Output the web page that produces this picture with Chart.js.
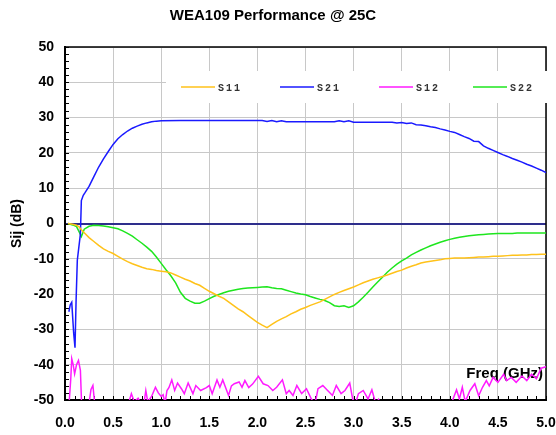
<!DOCTYPE html>
<html>
<head>
<meta charset="utf-8">
<script src="https://cdn.jsdelivr.net/npm/chart.js@4.4.1/dist/chart.umd.min.js"></script>
<style>
html,body{margin:0;padding:0;background:#fff;}
#wrap{width:556px;height:435px;position:relative;}
</style>
</head>
<body>
<div id="wrap"><canvas id="c" width="556" height="435"></canvas></div>
<script>
// ---- DATA ----
const chartTitle = 'WEA109 Performance @ 25C';
const yTitle = 'Sij (dB)';
const xTitle = 'Freq (GHz)';
const seriesNames = ['S11', 'S21', 'S12', 'S22'];

const freqMain = [0.03,0.08,0.12,0.15,0.17,0.2,0.25,0.3,
 0.35,0.4,0.45,0.5,0.55,0.6,0.65,0.7,0.75,0.8,0.85,0.9,0.95,1.0,
 1.05,1.1,1.15,1.2,1.25,1.3,1.35,1.4,1.45,1.5,1.55,1.6,1.65,1.7,1.75,1.8,1.85,1.9,1.95,2.0,
 2.05,2.1,2.15,2.2,2.25,2.3,2.35,2.4,2.45,2.5,2.55,2.6,2.65,2.7,2.75,2.8,2.85,2.9,2.95,3.0,
 3.05,3.1,3.15,3.2,3.25,3.3,3.35,3.4,3.45,3.5,3.55,3.6,3.65,3.7,3.75,3.8,3.85,3.9,3.95,4.0,
 4.05,4.1,4.15,4.2,4.25,4.3,4.35,4.4,4.45,4.5,4.55,4.6,4.65,4.7,4.75,4.8,4.85,4.9,4.95,5.0];

const s11 = [0,-0.2,-0.5,-1.0,-1.8,-2.6,-4.0,-5.1,
 -6.2,-7.2,-7.9,-8.5,-9.3,-10.1,-10.8,-11.4,-11.9,-12.4,-12.8,-13.0,-13.3,-13.5,
 -13.7,-14.0,-14.6,-15.2,-15.8,-16.3,-17.0,-17.5,-18.4,-19.2,-19.9,-20.6,-21.2,-22.2,-23.2,-24.2,-25.0,-26.0,-27.0,-28.0,
 -28.8,-29.5,-28.6,-27.7,-27.0,-26.4,-25.6,-25.0,-24.3,-23.8,-23.2,-22.7,-22.2,-21.5,-20.8,-20.1,-19.5,-19.0,-18.5,-18.0,
 -17.4,-16.8,-16.3,-15.8,-15.4,-15.0,-14.6,-14.1,-13.6,-13.2,-12.6,-12.1,-11.7,-11.2,-10.9,-10.7,-10.5,-10.3,-10.0,-9.9,
 -9.8,-9.8,-9.8,-9.7,-9.6,-9.5,-9.5,-9.4,-9.3,-9.3,-9.2,-9.1,-9.0,-9.0,-8.9,-8.9,-8.8,-8.8,-8.7,-8.7];

const s22 = [0,-0.4,-0.9,-2.5,-3.7,-1.6,-0.8,-0.5,
 -0.6,-0.7,-0.9,-1.2,-1.5,-2.1,-2.8,-3.6,-4.6,-5.6,-6.7,-7.9,-9.5,-11.3,
 -13.1,-14.8,-16.8,-19.5,-21.2,-22.0,-22.6,-22.6,-22.0,-21.3,-20.6,-20.1,-19.6,-19.2,-18.9,-18.6,-18.4,-18.3,-18.2,-18.1,
 -18.0,-17.9,-18.2,-18.4,-18.5,-18.9,-19.3,-19.7,-20.0,-20.2,-20.7,-21.1,-21.5,-21.8,-22.4,-23.3,-23.5,-23.3,-23.8,-23.3,
 -22.2,-20.9,-19.5,-18.0,-16.6,-15.2,-13.8,-12.6,-11.5,-10.6,-9.8,-8.9,-8.2,-7.5,-6.9,-6.3,-5.8,-5.3,-4.9,-4.5,
 -4.2,-3.9,-3.7,-3.5,-3.3,-3.2,-3.1,-3.0,-2.9,-2.8,-2.8,-2.8,-2.8,-2.7,-2.7,-2.7,-2.7,-2.7,-2.7,-2.7];

const freqS21 = [0.04,0.055,0.07,0.09,0.104,0.115,0.128,0.16,0.17,0.19,0.21,0.25,0.3,0.35,0.4,0.45,0.5,0.55,0.6,
 0.65,0.7,0.75,0.8,0.85,0.9,0.95,1.0,1.2,1.5,1.8,2.05,2.1,2.15,2.2,2.25,2.3,2.35,2.8,2.85,2.9,2.95,3.0,
 3.4,3.45,3.5,3.55,3.6,3.65,3.7,3.75,3.8,3.85,3.9,3.95,4.0,4.05,4.1,4.15,4.2,4.25,4.3,4.35,4.4,4.45,
 4.5,4.55,4.6,4.65,4.7,4.75,4.8,4.85,4.9,4.95,5.0];
const s21 = [-25.0,-23.0,-22.3,-31.0,-35.2,-22.0,-10.4,-3.0,6.5,8.0,8.8,10.5,13.3,16.0,18.3,20.4,22.4,24.0,25.2,
 26.2,27.0,27.6,28.1,28.5,28.8,29.0,29.1,29.2,29.2,29.2,29.2,28.9,29.2,28.8,29.1,28.8,28.8,28.8,29.1,28.8,29.1,28.7,
 28.7,28.5,28.6,28.3,28.5,28.0,27.9,27.7,27.4,27.2,26.8,26.5,26.1,25.8,25.2,24.6,24.1,23.3,23.2,22.0,21.3,20.7,
 20.1,19.5,19.0,18.4,17.9,17.4,16.8,16.3,15.7,15.1,14.4];

const freqS12 = [0.04,0.06,0.07,0.085,0.10,0.12,0.14,0.16,0.175,0.22,0.25,0.27,0.29,0.305,0.32,0.6,0.66,0.69,0.72,
 0.76,0.78,0.82,0.84,0.86,0.9,0.94,0.97,1.0,1.02,1.04,1.06,1.08,1.11,1.14,1.17,1.21,1.24,1.28,1.33,1.36,1.41,
 1.47,1.5,1.53,1.58,1.61,1.64,1.70,1.73,1.76,1.81,1.84,1.87,1.91,1.95,2.01,2.06,2.11,2.16,2.2,2.26,2.3,2.33,
 2.37,2.41,2.46,2.51,2.56,2.6,2.63,2.68,2.73,2.78,2.82,2.87,2.91,2.96,2.99,3.02,3.05,3.1,3.15,3.19,3.23,3.26,
 3.29,3.35,3.95,4.0,4.03,4.07,4.1,4.13,4.16,4.21,4.26,4.3,4.34,4.38,4.41,4.45,4.5,4.56,4.59,4.64,4.69,4.75,
 4.8,4.85,4.9,4.95,5.0];
const s12 = [-52,-44,-38.3,-40,-42.6,-40,-38.8,-41.6,-53,-53,-51,-47,-45.9,-50,-53,-53,-51,-48.2,-50.5,
 -49.5,-50.5,-51,-47.3,-50.5,-49,-46.4,-48,-49,-48.5,-51,-47.3,-46.5,-44.3,-47.3,-45.2,-46.8,-48.2,-45.2,-48.2,-45.9,-47.3,
 -46.5,-45.9,-48.2,-44.3,-46.4,-44.3,-48.7,-46,-45.4,-44.9,-46.4,-44.5,-46.5,-45.5,-43.3,-45.4,-45.9,-47.3,-46.4,-44.3,-48.2,-47.3,
 -48.7,-45.9,-48.2,-46.8,-49.7,-51,-46.8,-45.9,-47.3,-48.7,-45.9,-48.2,-47.3,-45.2,-49.7,-51,-48.2,-47.3,-49.7,-47.1,-51,-49.8,
 -52,-53,-53,-51,-50,-47.1,-49.7,-46.4,-50.5,-47.3,-45.4,-48.8,-46.4,-44.5,-46,-43.6,-45,-42.7,-44.5,-43.6,-45,-43.2,
 -44.5,-42.7,-44,-41.0,-40.6];

// ---- STYLE ----
const colors = {S11:'#ffc21a', S21:'#1a1aff', S12:'#ff1aff', S22:'#1ee61e'};
const FONT = "'Liberation Sans', Arial, sans-serif";
const toPts = (xs, ys) => xs.map((x, i) => ({x: x, y: ys[i]}));

const ds = (name, xs, ys) => ({
  label: name, data: toPts(xs, ys), borderColor: colors[name], backgroundColor: colors[name],
  borderWidth: 1.5, pointRadius: 0, tension: 0, fill: false
});

const decor = {
  id: 'decor',
  beforeDatasetsDraw(chart) {
    const ctx = chart.ctx, ca = chart.chartArea;
    const xs = chart.scales.x, ys = chart.scales.y;
    ctx.save();
    // minor ticks (inward)
    ctx.strokeStyle = '#000'; ctx.lineWidth = 1;
    ctx.beginPath();
    for (let v = -50; v <= 50; v += 2) {
      const y = Math.round(ys.getPixelForValue(v)) + 0.5;
      ctx.moveTo(ca.left, y); ctx.lineTo(ca.left + 4, y);
    }
    for (let k = 0; k <= 50; k++) {
      const x = Math.round(xs.getPixelForValue(k / 10)) + 0.5;
      ctx.moveTo(x, ca.bottom); ctx.lineTo(x, ca.bottom - 4);
    }
    ctx.stroke();
    // top and right border
    ctx.lineWidth = 1.5;
    ctx.beginPath();
    ctx.moveTo(ca.left, ca.top); ctx.lineTo(ca.right, ca.top); ctx.lineTo(ca.right, ca.bottom);
    ctx.stroke();
    // legend box
    const lx = ca.left + 101, ly = ca.top + 24;
    ctx.fillStyle = '#fff';
    ctx.fillRect(lx, ly, ca.right + 3 - lx, 32);
    const itemX = [116, 215, 314, 408];
    const ly0 = ca.top + 40;
    ctx.font = "bold 10px 'Liberation Mono', 'Courier New', monospace";
    ctx.textBaseline = 'middle';
    ctx.textAlign = 'left';
    try { ctx.letterSpacing = '2px'; } catch (e) {}
    seriesNames.forEach((n, i) => {
      const x0 = ca.left + itemX[i];
      ctx.strokeStyle = colors[n]; ctx.lineWidth = 1.5;
      ctx.beginPath(); ctx.moveTo(x0, ly0); ctx.lineTo(x0 + 34, ly0); ctx.stroke();
      ctx.fillStyle = '#333';
      ctx.fillText(n, x0 + 37, ly0 + 1);
    });
    try { ctx.letterSpacing = '0px'; } catch (e) {}
    // x axis title inside plot
    ctx.font = 'bold 15px ' + FONT;
    ctx.fillStyle = '#000';
    ctx.textAlign = 'right';
    ctx.textBaseline = 'middle';
    ctx.fillText(xTitle, ca.right - 3, ca.bottom - 26);
    ctx.restore();
  }
};

new Chart(document.getElementById('c'), {
  type: 'line',
  data: {
    datasets: [
      ds('S11', freqMain, s11),
      ds('S21', freqS21, s21),
      ds('S12', freqS12, s12),
      ds('S22', freqMain, s22)
    ]
  },
  options: {
    responsive: false,
    animation: false,
    devicePixelRatio: 1,
    layout: {padding: {left: 0, right: 10, top: 0, bottom: 0}},
    plugins: {
      legend: {display: false},
      tooltip: {enabled: false},
      title: {
        display: true, text: chartTitle, color: '#000',
        font: {family: FONT, size: 15, weight: 'bold'},
        padding: {top: 7, bottom: 22}
      }
    },
    scales: {
      x: {
        type: 'linear', min: 0, max: 5,
        ticks: {stepSize: 0.5, color: '#000', font: {family: FONT, size: 14, weight: 'bold'},
                padding: 15, maxRotation: 0, autoSkip: false,
                callback: v => Number(v).toFixed(1)},
        grid: {color: '#c8c8c8', lineWidth: 1, drawTicks: false},
        border: {color: '#000', width: 2},
        afterFit(s) { s.height = 35; s.paddingLeft = 0; s.paddingRight = 0; }
      },
      y: {
        min: -50, max: 50,
        ticks: {stepSize: 10, color: '#000', font: {family: FONT, size: 14, weight: 'bold'}, padding: 11},
        grid: {
          color: c => (c.tick && c.tick.value === 0) ? '#2e2e8c' : '#c8c8c8',
          lineWidth: c => (c.tick && c.tick.value === 0) ? 2 : 1,
          drawTicks: false
        },
        border: {color: '#000', width: 2},
        title: {display: true, text: yTitle, color: '#000',
                font: {family: FONT, size: 14, weight: 'bold'}, padding: {top: 9, bottom: 0}},
        afterFit(s) { s.width = 65; }
      }
    }
  },
  plugins: [decor]
});
</script>
</body>
</html>
